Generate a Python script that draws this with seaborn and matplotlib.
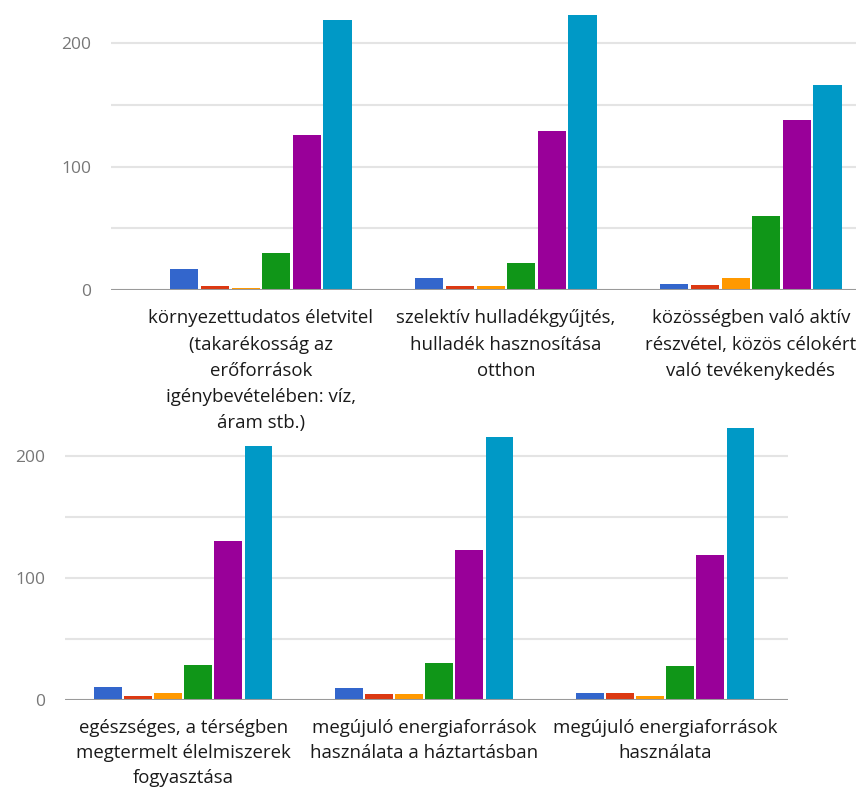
import pandas as pd
import matplotlib
matplotlib.use("Agg")
import matplotlib.pyplot as plt
import seaborn as sns

# DATA
categories = [
    "környezettudatos életvitel\n(takarékosság az\nerőforrások\nigénybevételében: víz,\náram stb.)",
    "szelektív hulladékgyűjtés,\nhulladék hasznosítása\notthon",
    "közösségben való aktív\nrészvétel, közös célokért\nvaló tevékenykedés",
    "egészséges, a térségben\nmegtermelt élelmiszerek\nfogyasztása",
    "megújuló energiaforrások\nhasználata a háztartásban",
    "megújuló energiaforrások\nhasználata",
]
series = ["nem tudom", "1", "2", "3", "4", "5"]
s_blue = [17, 10, 5, 11, 10, 6]
s_red = [3, 3, 4, 3, 5, 6]
s_orange = [2, 3, 10, 6, 5, 3]
s_green = [30, 22, 60, 29, 30, 28]
s_purple = [126, 129, 138, 130, 123, 119]
s_cyan = [219, 223, 166, 208, 215, 223]
colors = ["#3366cc", "#dc3912", "#ff9900", "#109618", "#990099", "#0099c6"]

# LONG FORM TABLE
rows = []
for name, vals in zip(series, [s_blue, s_red, s_orange, s_green, s_purple, s_cyan]):
    for cat, v in zip(categories, vals):
        rows.append({"category": cat, "series": name, "count": v})
df = pd.DataFrame(rows)
df_top = df[df["category"].isin(categories[:3])]
df_bottom = df[df["category"].isin(categories[3:])]

sns.set_style("white")
plt.rcParams["font.family"] = ["Open Sans", "DejaVu Sans"]

W, H = 856, 789
fig = plt.figure(figsize=(W / 100, H / 100), dpi=100)


def px_axes(left, top, right, bottom):
    return fig.add_axes([left / W, 1 - bottom / H, (right - left) / W, (bottom - top) / H])


# top chart: 0 at y=290, 1.2335 px per unit
ax1 = px_axes(111, 290 - 232 * 1.2335, 856, 290)
# bottom chart: 0 at y=700, 1.2215 px per unit
ax2 = px_axes(65, 700 - 226 * 1.2215, 788, 700)
ax1.set_zorder(3)  # keep the long top labels above the lower chart
ax2.patch.set_alpha(0)

for ax, d, cats, xlim, ylim, lsp in [
    (ax1, df_top, categories[:3], (-0.612, 2.429), (0, 232), 1.58),
    (ax2, df_bottom, categories[3:], (-0.49, 2.51), (0, 226), 1.5),
]:
    sns.barplot(data=d, x="category", y="count", hue="series", order=cats,
                hue_order=series, palette=colors, saturation=1, width=0.75,
                gap=0.08, linewidth=0, legend=False, ax=ax)
    ax.set_xlim(*xlim)
    ax.set_ylim(*ylim)
    ax.set_yticks([0, 100, 200])
    ax.set_yticks([50, 150], minor=True)
    ax.yaxis.grid(True, which="both", color="#e4e4e4", lw=1.5)
    ax.set_axisbelow(True)
    ax.axhline(0, color="#9a9a9a", lw=2.2, zorder=5)
    for s in ax.spines.values():
        s.set_visible(False)
    ax.set_xlabel("")
    ax.set_ylabel("")
    ax.tick_params(axis="y", which="both", length=0, pad=14.4, labelsize=12.5, labelcolor="#777777")
    ax.tick_params(axis="x", length=0, pad=14, labelsize=13.4, labelcolor="#1a1a1a")
    for t in ax.get_xticklabels():
        t.set_linespacing(lsp)

fig.savefig("out.png", dpi=100)
